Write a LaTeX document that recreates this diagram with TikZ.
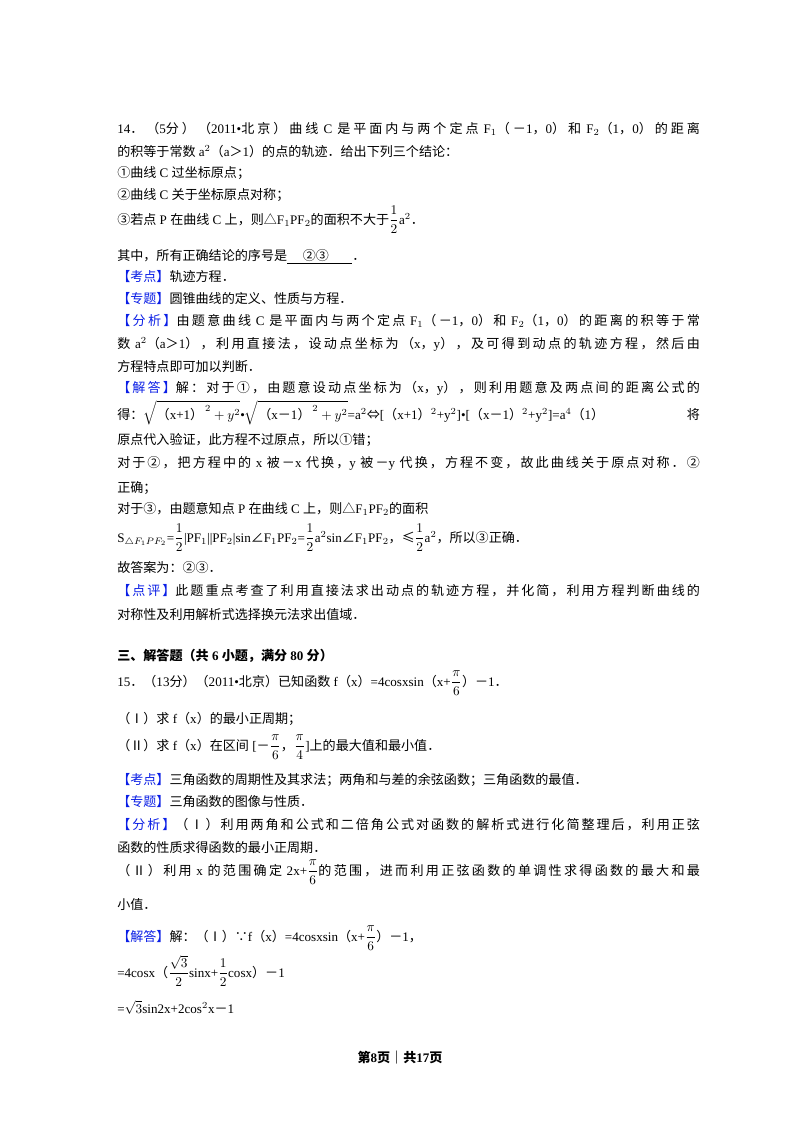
\documentclass[tikz,border=0pt]{standalone}
\usepackage{fontspec}
\usepackage{amsmath}
\setmainfont{Liberation Serif}
\newfontfamily\cjk{Noto Sans CJK SC}
\XeTeXinterchartokenstate=1
\newXeTeXintercharclass\CJKc
\newcount\cc
\def\setrange#1#2{\cc=#1 \loop\XeTeXcharclass\cc=\CJKc\ifnum\cc<#2 \advance\cc by 1 \repeat}
\setrange{"4E00}{"9FFF}
\setrange{"3000}{"303F}
\setrange{"FF00}{"FFEF}
\setrange{"2460}{"2473}
\setrange{"2160}{"216F}
\XeTeXcharclass"25B3=\CJKc
\XeTeXcharclass"2235=\CJKc
\XeTeXcharclass"2264=\CJKc
\XeTeXcharclass"21D4=\CJKc
\XeTeXcharclass"2220=\CJKc
\XeTeXinterchartoks 0 \CJKc = {\cjk}
\XeTeXinterchartoks 4095 \CJKc = {\cjk}
\XeTeXinterchartoks \CJKc 0 = {\rmfamily}
\XeTeXinterchartoks \CJKc 4095 = {\rmfamily}
\XeTeXinterchartoks \CJKc \CJKc = {\hskip0pt plus 2pt\relax}
\definecolor{lb}{RGB}{10,30,230}
\newcommand\lbl[1]{{\color{lb}【#1】}}
\newcommand\fl[1]{\makebox[437pt][s]{#1}}
\newcommand\fr[2]{$\dfrac{#1}{#2}$}
\begin{document}
\begin{tikzpicture}[x=0.75pt,y=-0.75pt,
  ln/.style={anchor=base west,inner sep=0pt,font=\fontsize{9.8}{12}\selectfont}]
\useasboundingbox (0,0) rectangle (800,1132);
\fill[white] (0,0) rectangle (800,1132);
\node[ln] (l1) at (117,133) {\fl{14．（5分）（2011•北京）曲线 C 是平面内与两个定点 F$_1$（－1，0）和 F$_2$（1，0）的距离}};
\node[ln] (l2) at (117,156) {的积等于常数 a$^2$（a＞1）的点的轨迹．给出下列三个结论：};
\node[ln] (l3) at (117,177) {①曲线 C 过坐标原点；};
\node[ln] (l4) at (117,199) {②曲线 C 关于坐标原点对称；};
\node[ln] (l5) at (117,224) {③若点 P 在曲线 C 上，则△F$_1$PF$_2$的面积不大于\fr{1}{2}a$^2$．};
\node[ln] (l6) at (117,260) {其中，所有正确结论的序号是\underline{\hspace{1.2em}②③\hspace{1.8em}}．};
\node[ln] (l7) at (117,281) {\lbl{考点}轨迹方程．};
\node[ln] (l8) at (117,303) {\lbl{专题}圆锥曲线的定义、性质与方程．};
\node[ln] (l9) at (117,325) {\fl{\lbl{分析}由题意曲线 C 是平面内与两个定点 F$_1$（－1，0）和 F$_2$（1，0）的距离的积等于常}};
\node[ln] (l10) at (117,348) {\fl{数 a$^2$（a＞1），利用直接法，设动点坐标为（x，y），及可得到动点的轨迹方程，然后由}};
\node[ln] (l11) at (117,371) {方程特点即可加以判断．};
\node[ln] (l12) at (117,392) {\fl{\lbl{解答}解：对于①，由题意设动点坐标为（x，y），则利用题意及两点间的距离公式的}};
\node[ln] (l13) at (117,419) {\makebox[437pt][l]{得：$\sqrt{\text{（x+1）}^{\,2}+y^2}$•$\sqrt{\text{（x－1）}^{\,2}+y^2}$=a$^2$⇔[（x+1）$^2$+y$^2$]•[（x－1）$^2$+y$^2$]=a$^4$（1）\hfill 将}};
\node[ln] (l14) at (117,444) {原点代入验证，此方程不过原点，所以①错；};
\node[ln] (l15) at (117,467) {\fl{对于②，把方程中的 x 被－x 代换，y 被－y 代换，方程不变，故此曲线关于原点对称．②}};
\node[ln] (l16) at (117,492) {正确；};
\node[ln] (l17) at (117,513) {对于③，由题意知点 P 在曲线 C 上，则△F$_1$PF$_2$的面积};
\node[ln] (l18) at (117,542) {S$_{\triangle F_1PF_2}$=\fr{1}{2}|PF$_1$||PF$_2$|sin∠F$_1$PF$_2$=\fr{1}{2}a$^2$sin∠F$_1$PF$_2$，≤\fr{1}{2}a$^2$，所以③正确．};
\node[ln] (l19) at (117,572) {故答案为：②③．};
\node[ln] (l20) at (117,595) {\fl{\lbl{点评}此题重点考查了利用直接法求出动点的轨迹方程，并化简，利用方程判断曲线的}};
\node[ln] (l21) at (117,619) {对称性及利用解析式选择换元法求出值域．};
\node[ln,font=\fontsize{9.8}{12}\selectfont\bfseries] (h) at (117,660) {三、解答题（共 6 小题，满分 80 分）};
\node[ln] (m1) at (117,686) {15．（13分）（2011•北京）已知函数 f（x）=4cosxsin（x+\fr{\pi}{6}）－1．};
\node[ln] (m2) at (117,723) {（Ⅰ）求 f（x）的最小正周期；};
\node[ln] (m3) at (117,750) {（Ⅱ）求 f（x）在区间 [－\fr{\pi}{6}，\fr{\pi}{4}]上的最大值和最小值．};
\node[ln] (m4) at (117,784) {\lbl{考点}三角函数的周期性及其求法；两角和与差的余弦函数；三角函数的最值．};
\node[ln] (m5) at (117,806) {\lbl{专题}三角函数的图像与性质．};
\node[ln] (m6) at (117,829) {\fl{\lbl{分析}（Ⅰ）利用两角和公式和二倍角公式对函数的解析式进行化简整理后，利用正弦}};
\node[ln] (m7) at (117,852) {函数的性质求得函数的最小正周期．};
\node[ln] (m8) at (117,875) {\fl{（Ⅱ）利用 x 的范围确定 2x+\fr{\pi}{6}的范围，进而利用正弦函数的单调性求得函数的最大和最}};
\node[ln] (m9) at (117,909) {小值．};
\node[ln] (m10) at (117,941) {\lbl{解答}解：（Ⅰ）∵f（x）=4cosxsin（x+\fr{\pi}{6}）－1，};
\node[ln] (m11) at (117,977) {=4cosx（\fr{\sqrt{3}}{2}sinx+\fr{1}{2}cosx）－1};
\node[ln] (m12) at (117,1013) {=$\sqrt{3}$sin2x+2cos$^2$x－1};
\node[anchor=base,inner sep=0pt,font=\fontsize{9.8}{12}\selectfont\bfseries] (ft) at (400,1062) {第8页｜共17页};
\end{tikzpicture}
\end{document}
